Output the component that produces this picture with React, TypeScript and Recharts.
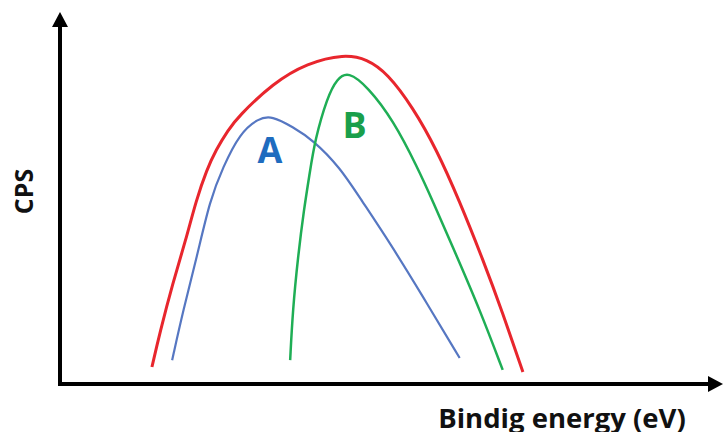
import { LineChart, Line, XAxis, YAxis, ReferenceDot } from "recharts";

// envelope (red) and the two component peaks A (blue) and B (green)
const envelopeX = [14.1, 15.3, 17.3, 19.3, 20.9, 22.5, 23.9, 25.8, 27.3, 32.7, 37.9, 43.6, 47.1, 50.2, 54.1, 57.8, 61.2, 64.9, 67.9, 71.0];
const envelopeY = [4.7, 14.1, 28.0, 39.9, 51.0, 59.3, 64.8, 70.4, 74.0, 83.4, 88.9, 91.4, 90.0, 86.1, 76.7, 64.8, 51.0, 34.3, 19.7, 3.3];

const peakAX = [17.2, 18.9, 21.0, 23.0, 25.0, 27.6, 30.4, 32.5, 35.7, 38.8, 42.9, 46.2, 50.6, 55.7, 61.3];
const peakAY = [6.6, 20.5, 35.2, 51.0, 60.1, 69.5, 73.6, 74.3, 71.2, 67.6, 60.1, 51.0, 39.1, 24.1, 7.2];

const peakBX = [35.3, 35.7, 36.5, 37.4, 38.3, 39.1, 41.0, 42.5, 44.2, 47.2, 51.1, 54.8, 57.1, 60.9, 64.4, 67.9];
const peakBY = [6.6, 20.5, 35.2, 48.2, 58.4, 67.6, 79.5, 84.6, 86.6, 82.3, 73.1, 60.1, 51.0, 35.2, 20.5, 3.9];

const peakLabels = [
  { name: "A", x: 32.2, y: 64.8, color: "#1f6cbf" },
  { name: "B", x: 45.2, y: 71.7, color: "#1a9f4b" },
];

const xTitle = "Bindig energy (eV)";
const yTitle = "CPS";

const zip = (xs: number[], ys: number[]) => xs.map((x, i) => ({ x, y: ys[i] }));

const envelope = zip(envelopeX, envelopeY);
const peakA = zip(peakAX, peakAY);
const peakB = zip(peakBX, peakBY);

const FONT = "'Open Sans', sans-serif";

const YTitle = ({ viewBox }: any) => {
  const cx = viewBox.x + 23;
  const cy = viewBox.y + viewBox.height / 2 - 12;
  return (
    <text x={cx} y={cy} transform={`rotate(-90, ${cx}, ${cy})`} textAnchor="middle" dominantBaseline="central"
      fontFamily={FONT} fontWeight={700} fontSize={25} fill="#111">
      {yTitle}
    </text>
  );
};

const XTitle = ({ viewBox }: any) => (
  <text x={viewBox.x + viewBox.width - 150} y={viewBox.y + 44} textAnchor="middle"
    fontFamily={FONT} fontWeight={700} fontSize={27.5} fill="#111">
    {xTitle}
  </text>
);

export default function App() {
  return (
    <div style={{ position: "absolute", left: 0, top: 0, background: "#fff" }}>
      <svg width={0} height={0} style={{ position: "absolute" }}>
        <defs>
          <marker id="axisArrow" markerUnits="userSpaceOnUse" markerWidth={15} markerHeight={18}
            viewBox="0 0 15 18" refX={4} refY={9} orient="auto-start-reverse">
            <path d="M0,1 L15,9 L0,17 z" fill="#000" />
          </marker>
        </defs>
      </svg>
      <LineChart width={724} height={432} margin={{ top: 23, right: 12, bottom: 0, left: 0 }}>
        <XAxis type="number" dataKey="x" domain={[0, 100]} height={48} tick={false} tickLine={false}
          axisLine={{ stroke: "#000", strokeWidth: 4, strokeLinecap: "square", markerEnd: "url(#axisArrow)" }}
          label={<XTitle />} />
        <YAxis type="number" dataKey="y" domain={[0, 100]} width={60} tick={false} tickLine={false}
          axisLine={{ stroke: "#000", strokeWidth: 4, strokeLinecap: "square", markerStart: "url(#axisArrow)" }}
          label={<YTitle />} />
        <Line data={envelope} dataKey="y" type="basis" stroke="#e8262d" strokeWidth={3} dot={false} isAnimationActive={false} />
        <Line data={peakA} dataKey="y" type="basis" stroke="#5677c2" strokeWidth={2.2} dot={false} isAnimationActive={false} />
        <Line data={peakB} dataKey="y" type="basis" stroke="#1fae55" strokeWidth={2.5} dot={false} isAnimationActive={false} />
        {peakLabels.map((p) => (
          <ReferenceDot key={p.name} x={p.x} y={p.y} r={0} fill="none" stroke="none"
            label={{ value: p.name, position: "center", fill: p.color, fontSize: 36, fontWeight: 700, fontFamily: FONT }} />
        ))}
      </LineChart>
    </div>
  );
}
